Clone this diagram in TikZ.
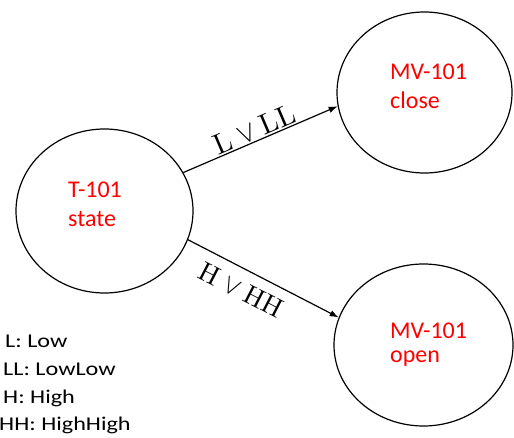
\documentclass[tikz,border=0pt]{standalone}
\usepackage{fontspec}
\usepackage{unicode-math}
\usepackage{graphicx}
\setmainfont{Carlito}
\setmathfont{Latin Modern Math}
\usetikzlibrary{shapes.geometric,arrows.meta}
\definecolor{statered}{RGB}{255,0,0}
\tikzset{
  stateellipse/.style={draw=black, line width=1.2pt, ellipse, inner sep=0pt},
  redtext/.style={anchor=base west, inner sep=0pt, text=statered, font=\fontsize{24}{29}\selectfont},
  legendtext/.style={anchor=base west, inner sep=0pt, text=black, font=\fontsize{19.5}{24}\selectfont},
  trans/.style={draw=black, line width=1.2pt, -{Latex[length=9pt,width=6.5pt]}},
  translabel/.style={sloped}
}
\begin{document}
\begin{tikzpicture}[x=1pt,y=1pt]
\useasboundingbox (0,0) rectangle (514,437);
% states
\node[stateellipse, minimum width=177pt, minimum height=164pt] (T) at (104.5,226) {};
\node[stateellipse, minimum width=175pt, minimum height=161pt] (C) at (424.5,344.5) {};
\node[stateellipse, minimum width=179pt, minimum height=162pt] (O) at (423.5,92) {};
% state texts
\node[redtext] (t1) at (68,239) {T-101};
\node[redtext] (t2) at (68,210.3) {state};
\node[redtext] (c1) at (390,357) {MV-101};
\node[redtext] (c2) at (390,328) {close};
\node[redtext] (o1) at (390,99) {MV-101};
\node[redtext] (o2) at (390,75) {open};
% transitions
\draw[trans] (T.26.4) -- node[translabel, above, pos=0.49, inner sep=0.5pt, font=\fontsize{29}{33}\selectfont] (lab1) {$\symup{L}\vee\symup{LL}$} (C.189.4);
\draw[trans] (T.-19.4) -- node[translabel, below, pos=0.415, inner sep=10pt, font=\fontsize{27}{31}\selectfont] (lab2) {$\symup{H}\vee\symup{HH}$} (O.162);
% legend
\node[legendtext] (g1) at (5,90) {\scalebox{1.24}[1]{L: Low}};
\node[legendtext] (g2) at (3,62) {\scalebox{1.24}[1]{LL: LowLow}};
\node[legendtext] (g3) at (3,34) {\scalebox{1.24}[1]{H: High}};
\node[legendtext] (g4) at (-1,7) {\scalebox{1.24}[1]{HH: HighHigh}};
\end{tikzpicture}
\end{document}
